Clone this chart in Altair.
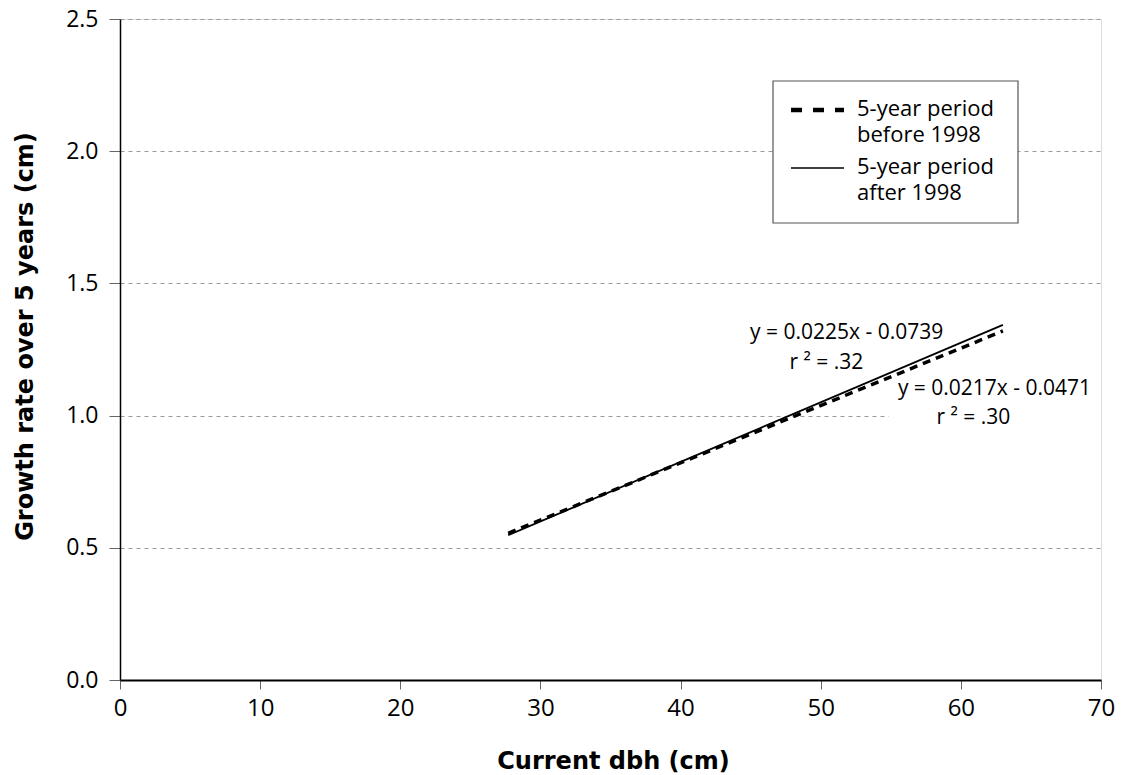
import altair as alt
import pandas as pd

# ---- data ----
dbh_ends = [27.7, 63.0]
growth_before = [0.555, 1.320]   # 5-year period before 1998 (dashed)
growth_after = [0.548, 1.343]    # 5-year period after 1998 (solid)

eq_texts = ["y = 0.0225x - 0.0739", "r \u00b2 = .32", "y = 0.0217x - 0.0471", "r \u00b2 = .30"]
eq_x = [51.85, 50.4, 62.4, 60.9]
eq_y = [1.312, 1.200, 1.100, 0.990]

legend_labels = ["5-year period\nbefore 1998", "5-year period\nafter 1998"]

y_ticks = [0.0, 0.5, 1.0, 1.5, 2.0, 2.5]
x_ticks = [0, 10, 20, 30, 40, 50, 60, 70]

FONT = "Open Sans"
TFONT = "DejaVu Sans"

before_df = pd.DataFrame({"dbh": dbh_ends, "growth": growth_before})
after_df = pd.DataFrame({"dbh": dbh_ends, "growth": growth_after})
eq_df = pd.DataFrame({"x": eq_x, "y": eq_y, "t": eq_texts})

xs = alt.Scale(domain=[0, 70], nice=False, zero=False)
ys = alt.Scale(domain=[0, 2.5], nice=False)

x_axis = alt.Axis(values=x_ticks, grid=False, title="Current dbh (cm)", format="d",
                  domainColor="black", domainWidth=2, tickColor="#666666", tickSize=9,
                  labelFont=FONT, labelFontSize=24, labelPadding=7, labelColor="black",
                  labelFlush=False,
                  titleFont=TFONT, titleFontSize=24, titleFontWeight="bold", titleColor="black",
                  titleBaseline="alphabetic", titleX=493, titleY=88)
y_axis = alt.Axis(values=y_ticks, format=".1f", grid=True, gridDash=[4, 4], gridColor="#9a9a9a",
                  gridWidth=1, title="Growth rate over 5 years (cm)",
                  domainColor="black", domainWidth=1.5, tickColor="#666666", tickSize=11,
                  labelFont=FONT, labelFontSize=23, labelPadding=11, labelColor="black",
                  labelFlush=False,
                  titleFont=TFONT, titleFontSize=24, titleFontWeight="bold", titleColor="black",
                  titleX=-83, titleY=317)

# white box behind the second equation (hides grid line as in reference)
box_df = pd.DataFrame({"x": [54.85], "x2": [70.0], "y": [0.94], "y2": [1.13]})
eq_box = alt.Chart(box_df).mark_rect(fill="white").encode(
    x=alt.X("x:Q", scale=xs, axis=x_axis), x2="x2:Q",
    y=alt.Y("y:Q", scale=ys, axis=y_axis), y2="y2:Q")

before_line = alt.Chart(before_df).mark_line(color="black", strokeWidth=3.5, strokeDash=[8, 6]).encode(
    x=alt.X("dbh:Q", scale=xs), y=alt.Y("growth:Q", scale=ys))
after_line = alt.Chart(after_df).mark_line(color="black", strokeWidth=1.8).encode(
    x=alt.X("dbh:Q", scale=xs), y=alt.Y("growth:Q", scale=ys))

eq_text = alt.Chart(eq_df).mark_text(font=FONT, fontSize=21, color="black", align="center",
                                      baseline="middle").encode(
    x=alt.X("x:Q", scale=xs), y=alt.Y("y:Q", scale=ys), text="t:N")

# ---- legend (pixel positions within the plot area) ----
leg_box = alt.Chart(pd.DataFrame({"a": [0]})).mark_rect(
    fill="white", stroke="#555555", strokeWidth=1.2).encode(
    x=alt.value(653), x2=alt.value(898), y=alt.value(62), y2=alt.value(204))
leg_dash = alt.Chart(pd.DataFrame({"a": [0]})).mark_rule(
    color="black", strokeWidth=4.5, strokeDash=[11, 11]).encode(
    x=alt.value(671), x2=alt.value(724), y=alt.value(91))
leg_solid = alt.Chart(pd.DataFrame({"a": [0]})).mark_rule(
    color="black", strokeWidth=1.5).encode(
    x=alt.value(671), x2=alt.value(724), y=alt.value(149))
leg_text_df = pd.DataFrame({"t": legend_labels, "px": [737, 737], "py": [80, 138]})
leg_text = alt.Chart(leg_text_df).mark_text(font=FONT, fontSize=22, color="black", align="left",
                                            baseline="top", lineBreak="\n", lineHeight=26).encode(
    x=alt.X("px:Q", scale=None), y=alt.Y("py:Q", scale=None), text="t:N")

chart = alt.layer(eq_box, before_line, after_line, eq_text, leg_box, leg_dash, leg_solid, leg_text).properties(
    width=981, height=661,
    autosize=alt.AutoSizeParams(type="none"),
    padding={"left": 120, "top": 19, "right": 26, "bottom": 95},
).configure_view(stroke=None).configure(background="white")

chart.save("out.html", embed_options={"renderer": "svg", "actions": False})
